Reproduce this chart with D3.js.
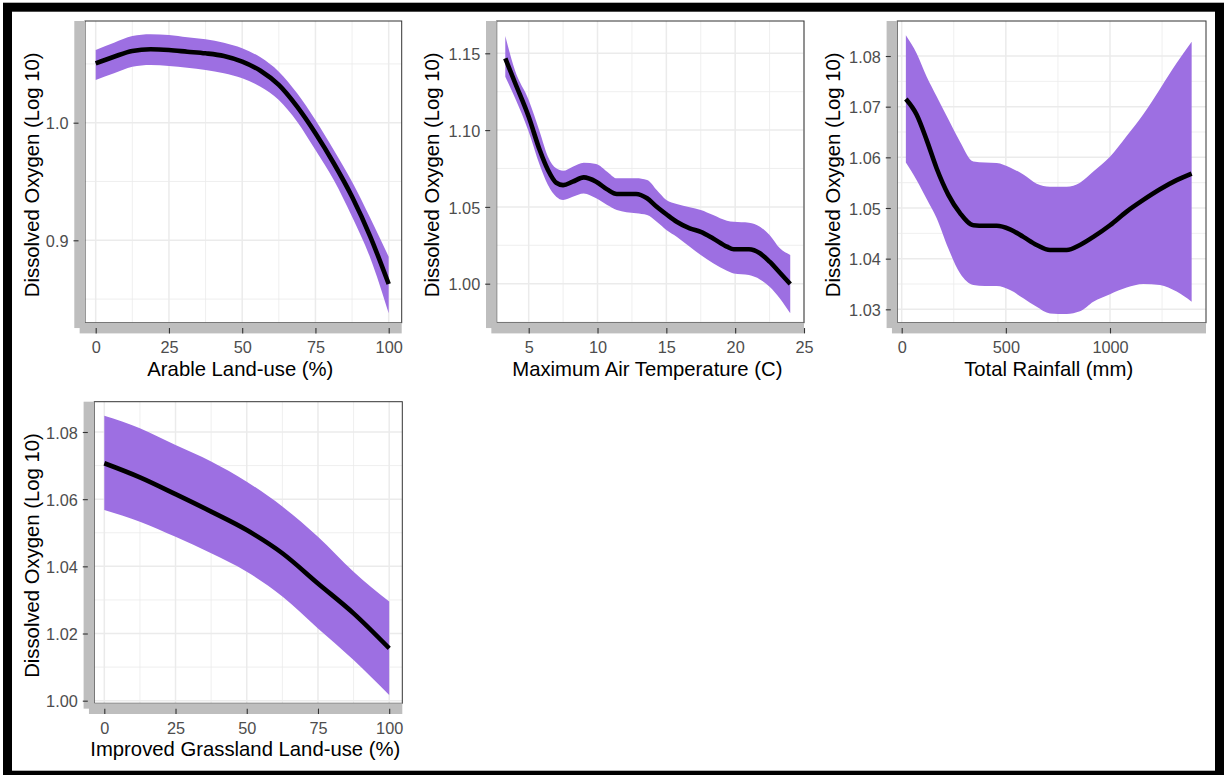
<!DOCTYPE html>
<html>
<head>
<meta charset="utf-8">
<script src="https://cdn.jsdelivr.net/npm/d3@7"></script>
<style>
  html, body { margin: 0; padding: 0; background: #fff; }
  svg { display: block; }
</style>
</head>
<body>
<script>
// ---------------- DATA ----------------
// Panel 1: Arable land-use (%)
const arableX   = [0, 6.25, 12.5, 18.75, 25, 31.25, 37.5, 43.75, 50, 56.25, 62.5, 68.75, 75, 81.25, 87.5, 93.75, 100];
const arableFit = [1.0505, 1.0561, 1.0610, 1.0624, 1.0618, 1.0604, 1.0590, 1.0567, 1.0519, 1.0442, 1.0321, 1.0136, 0.9910, 0.9655, 0.9370, 0.9030, 0.8628];
const arableHi  = [1.0618, 1.0680, 1.0737, 1.0752, 1.0746, 1.0726, 1.0709, 1.0680, 1.0633, 1.0556, 1.0434, 1.0250, 1.0023, 0.9768, 0.9498, 0.9187, 0.8860];
const arableLo  = [1.0363, 1.0420, 1.0476, 1.0491, 1.0482, 1.0468, 1.0448, 1.0420, 1.0378, 1.0306, 1.0193, 1.0009, 0.9768, 0.9513, 0.9200, 0.8847, 0.8379];

// Panel 2: Maximum air temperature (C)
const tempX   = [3.3, 4, 5, 5.8, 6.4, 7, 7.5, 8.2, 9, 9.9, 10.7, 11.4, 12.8, 13.6, 14.3, 15, 15.75, 16.7, 17.5, 18.4, 19.4, 19.9, 21, 21.8, 22.5, 23.25, 24];
const tempFit = [1.1467, 1.1310, 1.1087, 1.0870, 1.0740, 1.0657, 1.0642, 1.0664, 1.0692, 1.0664, 1.0614, 1.0584, 1.0584, 1.0556, 1.0501, 1.0452, 1.0403, 1.0360, 1.0338, 1.0295, 1.0241, 1.0224, 1.0224, 1.0198, 1.0143, 1.0071, 0.9998];
const tempHi  = [1.1613, 1.1390, 1.1196, 1.0990, 1.0827, 1.0751, 1.0735, 1.0762, 1.0788, 1.0779, 1.0729, 1.0686, 1.0686, 1.0675, 1.0610, 1.0545, 1.0519, 1.0497, 1.0480, 1.0447, 1.0410, 1.0403, 1.0397, 1.0371, 1.0317, 1.0230, 1.0187];
const tempLo  = [1.1348, 1.1210, 1.0990, 1.0773, 1.0642, 1.0566, 1.0545, 1.0566, 1.0588, 1.0556, 1.0512, 1.0480, 1.0458, 1.0447, 1.0403, 1.0350, 1.0306, 1.0241, 1.0187, 1.0133, 1.0085, 1.0067, 1.0056, 1.0028, 0.9980, 0.9904, 0.9807];

// Panel 3: Total rainfall (mm)
const rainX   = [20, 72, 120, 168, 224, 280, 344, 400, 456, 520, 584, 648, 712, 792, 856, 920, 1000, 1080, 1160, 1240, 1320, 1392];
const rainFit = [1.0715, 1.0684, 1.0634, 1.0578, 1.0526, 1.0490, 1.0466, 1.0465, 1.0465, 1.0458, 1.0443, 1.0427, 1.0417, 1.0417, 1.0427, 1.0443, 1.0466, 1.0493, 1.0516, 1.0537, 1.0555, 1.0568];
const rainHi  = [1.0841, 1.0805, 1.0759, 1.0720, 1.0675, 1.0631, 1.0592, 1.0590, 1.0589, 1.0580, 1.0566, 1.0548, 1.0542, 1.0542, 1.0550, 1.0572, 1.0601, 1.0642, 1.0685, 1.0735, 1.0786, 1.0828];
const rainLo  = [1.0590, 1.0555, 1.0518, 1.0480, 1.0420, 1.0371, 1.0348, 1.0346, 1.0346, 1.0338, 1.0322, 1.0305, 1.0292, 1.0291, 1.0296, 1.0315, 1.0330, 1.0343, 1.0350, 1.0348, 1.0335, 1.0315];

// Panel 4: Improved grassland land-use (%)
const grassX   = [0, 12.5, 25, 37.5, 50, 62.5, 75, 87.5, 100];
const grassFit = [1.0707, 1.0665, 1.0615, 1.0563, 1.0508, 1.0439, 1.0349, 1.0260, 1.0156];
const grassHi  = [1.0848, 1.0811, 1.0761, 1.0712, 1.0652, 1.0578, 1.0488, 1.0384, 1.0295];
const grassLo  = [1.0568, 1.0533, 1.0488, 1.0439, 1.0384, 1.0310, 1.0215, 1.0121, 1.0017];

// Ticks
const arableXTicks = [0, 25, 50, 75, 100];
const arableXMinor = [12.5, 37.5, 62.5, 87.5];
const arableYTicks = [0.9, 1.0];
const arableYMinor = [0.85, 0.95, 1.05];
const tempXTicks = [5, 10, 15, 20, 25];
const tempXMinor = [7.5, 12.5, 17.5, 22.5];
const tempYTicks = [1.00, 1.05, 1.10, 1.15];
const tempYMinor = [0.975, 1.025, 1.075, 1.125];
const rainXTicks = [0, 500, 1000];
const rainXMinor = [250, 750, 1250];
const rainYTicks = [1.03, 1.04, 1.05, 1.06, 1.07, 1.08];
const rainYMinor = [1.035, 1.045, 1.055, 1.065, 1.075];
const grassXTicks = [0, 25, 50, 75, 100];
const grassXMinor = [12.5, 37.5, 62.5, 87.5];
const grassYTicks = [1.00, 1.02, 1.04, 1.06, 1.08];
const grassYMinor = [1.01, 1.03, 1.05, 1.07];

const yTitle = "Dissolved Oxygen (Log 10)";
const xTitles = ["Arable Land-use (%)", "Maximum Air Temperature (C)", "Total Rainfall (mm)", "Improved Grassland Land-use (%)"];

// ---------------- LAYOUT ----------------
const W = 1225, H = 775;
const FONT = "'Liberation Sans', Arial, Helvetica, sans-serif";
const BAND = "#9d6fe2";
const BAR = "#bebebe";
const BARW = 10.7;

const panels = [
  { left: 85, right: 401.7, top: 21, bottom: 322.7, xDomain: [-3.65, 104.44], yDomain: [0.82993, 1.08648],
    xs: arableX, fit: arableFit, lo: arableLo, hi: arableHi,
    xTicks: arableXTicks, xMinor: arableXMinor, yTicks: arableYTicks, yMinor: arableYMinor,
    yFmt: d3.format(".1f"), xFmt: d3.format("d"), xTitle: xTitles[0], yTitleX: 31.5 },
  { left: 496.7, right: 804, top: 21, bottom: 322.7, xDomain: [2.676, 25], yDomain: [0.97460, 1.17103],
    xs: tempX, fit: tempFit, lo: tempLo, hi: tempHi,
    xTicks: tempXTicks, xMinor: tempXMinor, yTicks: tempYTicks, yMinor: tempYMinor,
    yFmt: d3.format(".2f"), xFmt: d3.format("d"), xTitle: xTitles[1], yTitleX: 431.5 },
  { left: 897.3, right: 1206, top: 21, bottom: 322.7, xDomain: [-21.1, 1460.9], yDomain: [1.02736, 1.08691],
    xs: rainX, fit: rainFit, lo: rainLo, hi: rainHi,
    xTicks: rainXTicks, xMinor: rainXMinor, yTicks: rainYTicks, yMinor: rainYMinor,
    yFmt: d3.format(".2f"), xFmt: d3.format("d"), xTitle: xTitles[2], yTitleX: 833 },
  { left: 94.3, right: 402.3, top: 401.7, bottom: 703.3, xDomain: [-3.51, 104.6], yDomain: [0.99922, 1.08902],
    xs: grassX, fit: grassFit, lo: grassLo, hi: grassHi,
    xTicks: grassXTicks, xMinor: grassXMinor, yTicks: grassYTicks, yMinor: grassYMinor,
    yFmt: d3.format(".2f"), xFmt: d3.format("d"), xTitle: xTitles[3], yTitleX: 31.5 }
];

const svg = d3.select("body").append("svg").attr("width", W).attr("height", H)
  .style("font-family", FONT);
svg.append("rect").attr("width", W).attr("height", H).attr("fill", "#fff");

function drawPanel(p) {
  const x = d3.scaleLinear().domain(p.xDomain).range([p.left, p.right]);
  const y = d3.scaleLinear().domain(p.yDomain).range([p.bottom, p.top]);
  const g = svg.append("g");

  // grid
  const grid = g.append("g").attr("stroke", "#ebebeb").attr("fill", "none");
  p.xMinor.forEach(v => grid.append("line").attr("x1", x(v)).attr("x2", x(v)).attr("y1", p.top).attr("y2", p.bottom).attr("stroke-width", 0.8));
  p.yMinor.forEach(v => grid.append("line").attr("x1", p.left).attr("x2", p.right).attr("y1", y(v)).attr("y2", y(v)).attr("stroke-width", 0.8));
  p.xTicks.forEach(v => grid.append("line").attr("x1", x(v)).attr("x2", x(v)).attr("y1", p.top).attr("y2", p.bottom).attr("stroke-width", 1.5));
  p.yTicks.forEach(v => grid.append("line").attr("x1", p.left).attr("x2", p.right).attr("y1", y(v)).attr("y2", y(v)).attr("stroke-width", 1.5));

  const rows = p.xs.map((xv, i) => ({ x: xv, fit: p.fit[i], lo: p.lo[i], hi: p.hi[i] }));

  const area = d3.area().x(d => x(d.x)).y0(d => y(d.lo)).y1(d => y(d.hi)).curve(d3.curveMonotoneX);
  g.append("path").datum(rows).attr("d", area).attr("fill", BAND);

  const line = d3.line().x(d => x(d.x)).y(d => y(d.fit)).curve(d3.curveMonotoneX);
  g.append("path").datum(rows).attr("d", line).attr("fill", "none")
    .attr("stroke", "#000").attr("stroke-width", 4.6).attr("stroke-linejoin", "round").attr("stroke-linecap", "butt");

  // panel border
  g.append("rect").attr("x", p.left).attr("y", p.top).attr("width", p.right - p.left).attr("height", p.bottom - p.top)
    .attr("fill", "none").attr("stroke", "#333").attr("stroke-width", 1);

  // thick grey axis lines
  g.append("rect").attr("x", p.left - BARW).attr("y", p.top).attr("width", BARW).attr("height", p.bottom - p.top + BARW / 2).attr("fill", BAR);
  g.append("rect").attr("x", p.left - BARW / 2).attr("y", p.bottom).attr("width", p.right - p.left + BARW / 2).attr("height", BARW).attr("fill", BAR);

  // axes
  const yAxis = d3.axisLeft(y).tickValues(p.yTicks).tickFormat(p.yFmt).tickSize(5).tickPadding(5);
  const ya = g.append("g").attr("transform", `translate(${p.left - 6.5},0)`).call(yAxis);
  ya.select(".domain").remove();
  ya.selectAll(".tick line").attr("stroke", "#333").attr("stroke-width", 1.1);
  ya.selectAll(".tick text").attr("fill", "#4d4d4d").style("font-size", "16.3px").style("font-family", FONT).attr("dy", "0.38em");

  const xAxis = d3.axisBottom(x).tickValues(p.xTicks).tickFormat(p.xFmt).tickSize(5.35).tickPadding(8.2);
  const xa = g.append("g").attr("transform", `translate(0,${p.bottom + BARW / 2})`).call(xAxis);
  xa.select(".domain").remove();
  xa.selectAll(".tick line").attr("stroke", "#333").attr("stroke-width", 1.1);
  xa.selectAll(".tick text").attr("fill", "#4d4d4d").style("font-size", "16.3px").style("font-family", FONT);

  // titles
  g.append("text").attr("x", (p.left + p.right) / 2 - 3).attr("y", p.bottom + 53)
    .attr("text-anchor", "middle").style("font-size", "20.3px").attr("fill", "#000").text(p.xTitle);
  const cy = (p.top + p.bottom) / 2 + 3;
  g.append("text").attr("transform", `translate(${p.yTitleX},${cy}) rotate(-90)`)
    .attr("text-anchor", "middle").attr("dy", "0.35em").style("font-size", "20.3px").attr("fill", "#000").text(yTitle);
}

panels.forEach(drawPanel);

// outer black frame
svg.append("rect").attr("x", 7.5).attr("y", 7.2).attr("width", 1212).attr("height", 768)
  .attr("fill", "none").attr("stroke", "#000").attr("stroke-width", 9);
</script>
</body>
</html>
